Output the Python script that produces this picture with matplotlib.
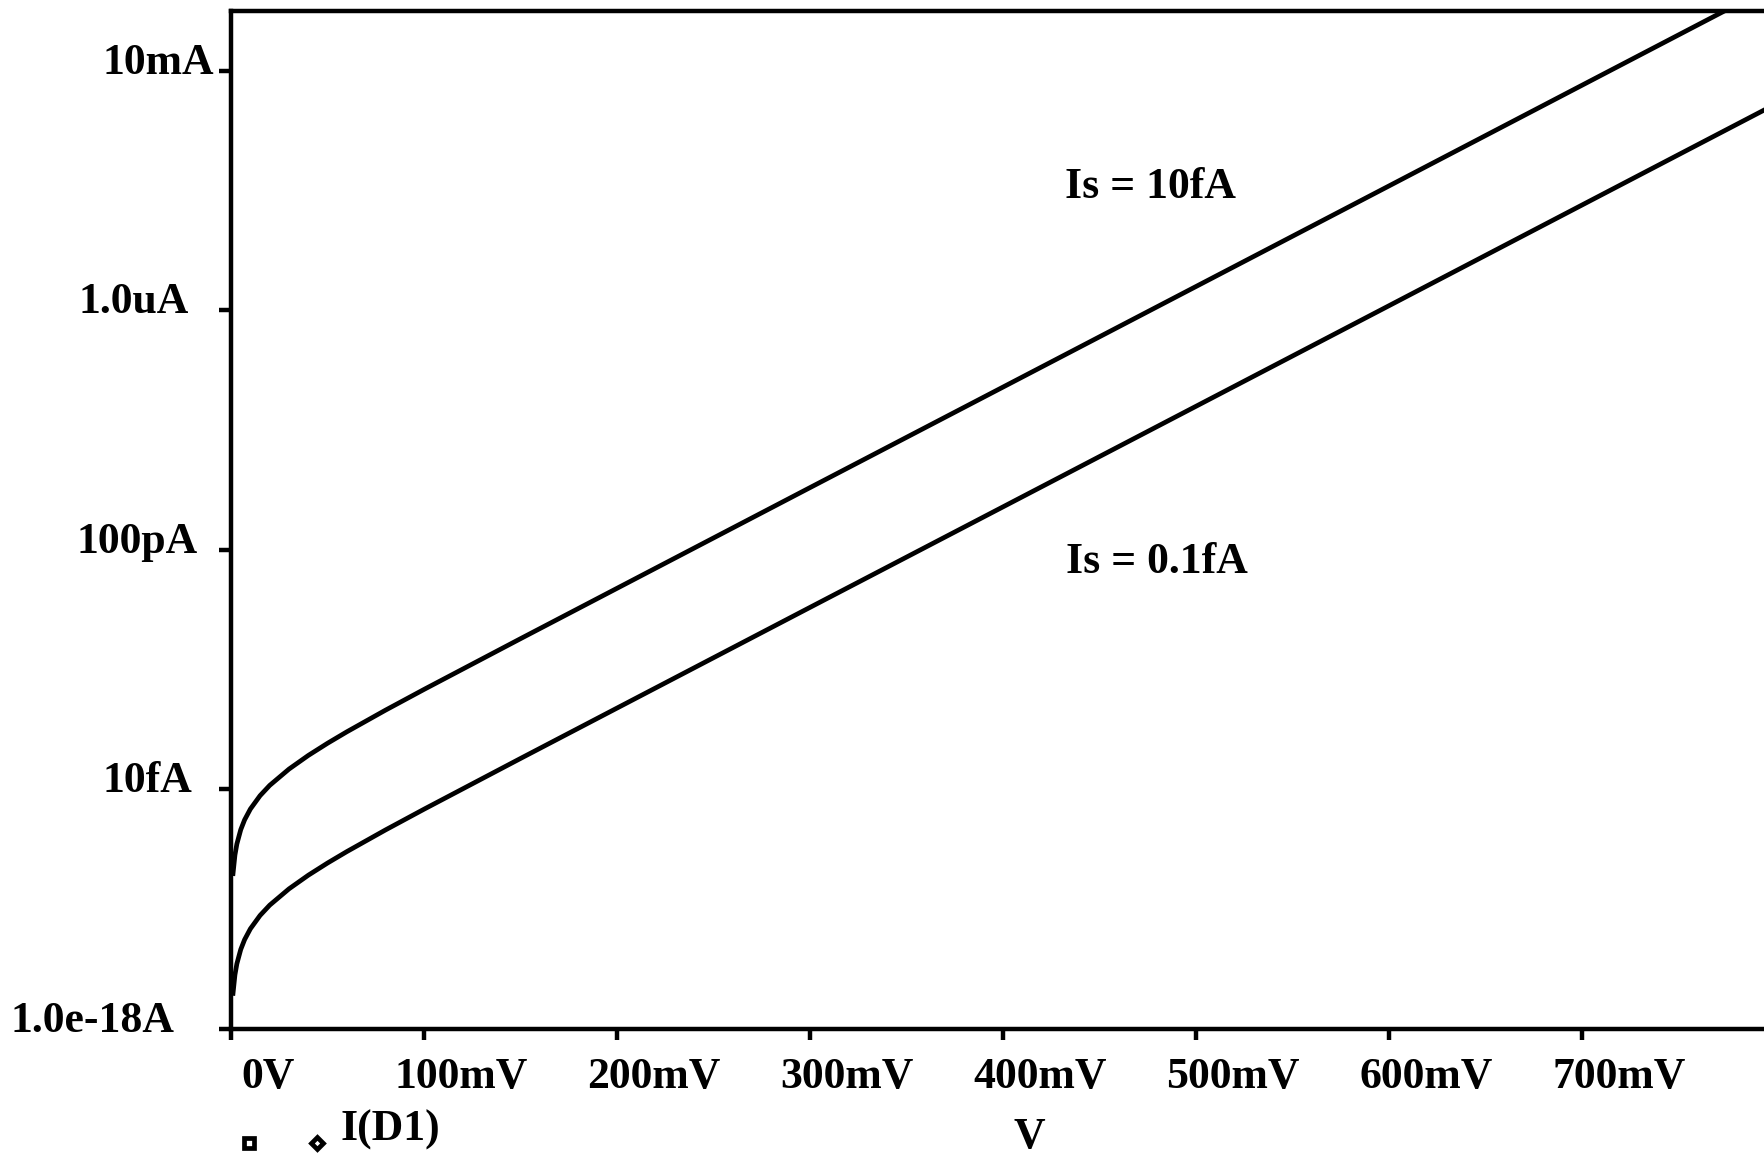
import matplotlib.pyplot as plt
import matplotlib.transforms as mtransforms
import numpy as np

# Daten
volts = [0.001, 0.002, 0.003, 0.005, 0.007, 0.010, 0.015, 0.020, 0.030, 0.040,
         0.050, 0.060, 0.080, 0.100, 0.150, 0.200, 0.300, 0.400, 0.500, 0.600,
         0.700, 0.800]
i_is10f = [3.94e-16, 8.04e-16, 1.23e-15, 2.13e-15, 3.11e-15, 4.72e-15, 7.87e-15,
           1.17e-14, 2.19e-14, 3.70e-14, 5.92e-14, 9.19e-14, 2.11e-13, 4.69e-13,
           3.30e-12, 2.29e-11, 1.10e-9, 5.25e-8, 2.51e-6, 1.20e-4, 5.76e-3, 2.76e-1]
i_is01f = [3.94e-18, 8.04e-18, 1.23e-17, 2.13e-17, 3.11e-17, 4.72e-17, 7.87e-17,
           1.17e-16, 2.19e-16, 3.70e-16, 5.92e-16, 9.19e-16, 2.11e-15, 4.69e-15,
           3.30e-14, 2.29e-13, 1.10e-11, 5.25e-10, 2.51e-8, 1.20e-6, 5.76e-5, 2.76e-3]

xticks = [0.0, 0.1, 0.2, 0.3, 0.4, 0.5, 0.6, 0.7]
xticklabels = ["0V", "100mV", "200mV", "300mV", "400mV", "500mV", "600mV", "700mV"]
yticks = [1e-18, 1e-14, 1e-10, 1e-6, 1e-2]
yticklabels = ["1.0e-18A", "10fA", "100pA", "1.0uA", "10mA"]

plt.rcParams['font.family'] = ['Liberation Serif', 'DejaVu Serif']
plt.rcParams['font.weight'] = 'bold'
FS = 31.5

fig = plt.figure(figsize=(17.64, 11.54), dpi=100)
ax = fig.add_axes([0.1310, 0.1083, 0.8753, 0.8822])

ax.plot(volts, i_is10f, color='black', lw=3.4)
ax.plot(volts, i_is01f, color='black', lw=3.4)

ax.set_yscale('log')
ax.set_xlim(0, 0.8)
ax.set_ylim(1e-18, 1e-1)

for s in ['left', 'top', 'bottom', 'right']:
    ax.spines[s].set_linewidth(3.2)

ax.set_xticks(xticks)
ax.set_yticks(yticks)
ax.minorticks_off()
ax.tick_params(axis='both', direction='out', width=3.2, labelleft=False, labelbottom=False)
ax.tick_params(axis='y', length=9)
ax.tick_params(axis='x', length=8)

# y-Beschriftungen, einzeln verschoben wie im Original
y_off_px = [-57, -39, -33, -42, -17]
ytrans = mtransforms.blended_transform_factory(ax.transAxes, ax.transData)
for yv, lab, off in zip(yticks, yticklabels, y_off_px):
    tr = ytrans + mtransforms.ScaledTranslation(off / 100, -3 / 100, fig.dpi_scale_trans)
    ax.text(0, yv, lab, transform=tr, ha='right', va='baseline', fontsize=FS,
            fontweight='bold', clip_on=False)

# x-Beschriftungen
xtrans = mtransforms.blended_transform_factory(ax.transData, ax.transAxes)
for xv, lab in zip(xticks, xticklabels):
    tr = xtrans + mtransforms.ScaledTranslation(37 / 100, -48 / 100, fig.dpi_scale_trans)
    ax.text(xv, 0, lab, transform=tr, ha='center', va='center', fontsize=FS,
            fontweight='bold', clip_on=False)

ax.text(1029 / 1764, 1 - 1137 / 1154, "V", transform=fig.transFigure, ha='center',
        va='center', fontsize=FS, fontweight='bold')
ax.text(341 / 1764, 1 - 1130 / 1154, "I(D1)", transform=fig.transFigure, ha='left',
        va='center', fontsize=FS, fontweight='bold')
ax.plot([249 / 1764], [1 - 1143 / 1154], marker='s', ms=6.5, mfc='white', mec='black',
        mew=3.4, transform=fig.transFigure, clip_on=False)
ax.plot([317 / 1764], [1 - 1143 / 1154], marker='D', ms=6.0, mfc='white', mec='black',
        mew=3.4, transform=fig.transFigure, clip_on=False)

ax.text(0.4321, 1.15e-4, "Is = 10fA", ha='left', va='center', fontsize=FS, fontweight='bold')
ax.text(0.4326, 6.2e-11, "Is = 0.1fA", ha='left', va='center', fontsize=FS, fontweight='bold')

fig.savefig("out.png", dpi=100)
